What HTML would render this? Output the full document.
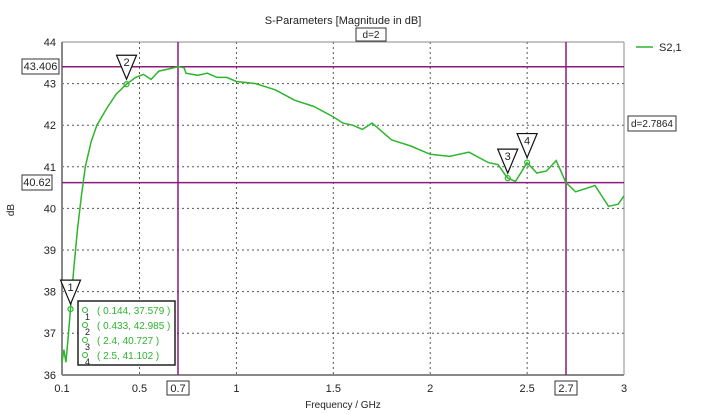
<!DOCTYPE html>
<html><head><meta charset="utf-8"><style>
body{margin:0;background:#fff;}
svg{display:block;font-family:"Liberation Sans","DejaVu Sans",sans-serif;}
</style></head><body>
<svg id="s" width="702" height="414" viewBox="0 0 702 414">
<rect width="702" height="414" fill="#fff"/>
<text x="343" y="24" font-size="11" text-anchor="middle" fill="#222">S-Parameters [Magnitude in dB]</text>
<rect x="356" y="28" width="30" height="13" fill="#fff" stroke="#333"/>
<text x="371" y="38" font-size="10" text-anchor="middle" fill="#222">d=2</text>
<g id="grid" stroke="#555" stroke-dasharray="2,3" stroke-width="1"></g>
<line x1="62" y1="42" x2="62" y2="375" stroke="#888" stroke-width="2"/>
<line x1="62" y1="375" x2="624" y2="375" stroke="#888" stroke-width="2"/>
<line x1="62" y1="42" x2="624" y2="42" stroke="#888" stroke-width="1"/>
<line x1="624" y1="42" x2="624" y2="375" stroke="#888" stroke-width="1"/>
<g id="lab" font-size="11" fill="#222"></g>
<line x1="178" y1="42" x2="178" y2="375" stroke="#8b1a7a" stroke-width="1.5"/>
<line x1="566" y1="42" x2="566" y2="375" stroke="#8b1a7a" stroke-width="1.5"/>
<line x1="62" y1="66.7" x2="624" y2="66.7" stroke="#8b1a7a" stroke-width="1.5"/>
<line x1="62" y1="182.6" x2="624" y2="182.6" stroke="#8b1a7a" stroke-width="1.5"/>
<rect x="22" y="59" width="37" height="15" fill="#fff" stroke="#333"/>
<text x="40.5" y="70" font-size="11" text-anchor="middle" fill="#222">43.406</text>
<rect x="22" y="175" width="30" height="15" fill="#fff" stroke="#333"/>
<text x="37" y="186" font-size="11" text-anchor="middle" fill="#222">40.62</text>
<rect x="628" y="116" width="48" height="15" fill="#fff" stroke="#333"/>
<text x="652" y="127" font-size="10" text-anchor="middle" fill="#222">d=2.7864</text>
<rect x="167" y="381" width="22" height="14" fill="#fff" stroke="#333"/>
<text x="178" y="392" font-size="11" text-anchor="middle" fill="#222">0.7</text>
<rect x="555" y="381" width="22" height="14" fill="#fff" stroke="#333"/>
<text x="566" y="392" font-size="11" text-anchor="middle" fill="#222">2.7</text>
<text x="343" y="408" font-size="10" text-anchor="middle" fill="#222">Frequency / GHz</text>
<text x="14" y="210" font-size="10" text-anchor="middle" fill="#222" transform="rotate(-90 14 210)">dB</text>
<path id="c" fill="none" stroke="#2db52d" stroke-width="1.5"/>
<line x1="636" y1="47" x2="653" y2="47" stroke="#2db52d" stroke-width="1.5"/>
<text x="659" y="51" font-size="11" fill="#222">S2,1</text>
<g id="mk"></g>
<rect x="78" y="301" width="97" height="64" fill="#fff" stroke="#222" stroke-width="1.5"/>
<g font-size="10" fill="#2db52d">
<text x="97" y="314">( 0.144, 37.579 )</text>
<text x="97" y="329">( 0.433, 42.985 )</text>
<text x="97" y="344">( 2.4, 40.727 )</text>
<text x="97" y="359">( 2.5, 41.102 )</text>
</g>
<g fill="none" stroke="#2db52d" stroke-width="1">
<circle cx="85" cy="310" r="2.5"/><circle cx="85" cy="325" r="2.5"/><circle cx="85" cy="340" r="2.5"/><circle cx="85" cy="355" r="2.5"/>
</g>
<g font-size="9" fill="#222"><text x="85" y="320">1</text><text x="85" y="335">2</text><text x="85" y="350">3</text><text x="85" y="365">4</text></g>
</svg>
<script>
var X=f=>62+(f-0.1)*193.8, Y=v=>42+(44-v)*41.6, ns="http://www.w3.org/2000/svg";
function el(p,t,a,tx){var e=document.createElementNS(ns,t);for(var k in a)e.setAttribute(k,a[k]);if(tx)e.textContent=tx;document.getElementById(p).appendChild(e);}
[0.5,1,1.5,2,2.5].forEach(f=>el("grid","line",{x1:X(f),y1:42,x2:X(f),y2:375}));
[37,38,39,40,41,42,43].forEach(v=>el("grid","line",{x1:62,y1:Y(v),x2:624,y2:Y(v)}));
[[0.1,"0.1"],[0.5,"0.5"],[1,"1"],[1.5,"1.5"],[2,"2"],[2.5,"2.5"],[3,"3"]].forEach(a=>el("lab","text",{x:X(a[0]),y:392,"text-anchor":"middle"},a[1]));
[36,37,38,39,40,41,42,43,44].forEach(v=>el("lab","text",{x:56,y:Y(v)+4,"text-anchor":"end"},v));
var d=[[0.1,36.3],[0.11,36.6],[0.12,36.3],[0.13,36.8],[0.144,37.58],[0.16,38.5],[0.18,39.5],[0.2,40.3],[0.22,41],[0.25,41.6],[0.28,42],[0.33,42.4],[0.38,42.75],[0.433,42.985],[0.48,43.15],[0.52,43.22],[0.56,43.1],[0.6,43.3],[0.65,43.35],[0.7,43.406],[0.73,43.38],[0.74,43.25],[0.8,43.2],[0.85,43.25],[0.9,43.15],[0.95,43.15],[1.0,43.05],[1.1,43.0],[1.2,42.85],[1.3,42.6],[1.4,42.45],[1.5,42.2],[1.55,42.05],[1.6,42.0],[1.65,41.9],[1.7,42.05],[1.75,41.85],[1.8,41.65],[1.9,41.5],[2.0,41.3],[2.1,41.25],[2.2,41.35],[2.3,41.1],[2.35,41.05],[2.38,40.85],[2.4,40.73],[2.44,40.65],[2.5,41.1],[2.55,40.85],[2.6,40.9],[2.65,41.15],[2.7,40.62],[2.75,40.4],[2.85,40.55],[2.92,40.05],[2.97,40.1],[3.0,40.3]];
document.getElementById("c").setAttribute("d","M"+d.map(p=>X(p[0]).toFixed(1)+","+Y(p[1]).toFixed(1)).join(" L"));
[[0.144,37.579,"1"],[0.433,42.985,"2"],[2.4,40.727,"3"],[2.5,41.102,"4"]].forEach(m=>{var x=X(m[0]),y=Y(m[1]);
el("mk","circle",{cx:x,cy:y,r:2.5,fill:"none",stroke:"#2db52d","stroke-width":1.2});
el("mk","path",{d:"M"+(x-10)+","+(y-29)+" L"+(x+10)+","+(y-29)+" L"+x+","+(y-5)+"Z",fill:"#fff",stroke:"#111","stroke-width":1.2});
el("mk","text",{x:x,y:y-18,"font-size":11,"text-anchor":"middle",fill:"#222"},m[2]);});
</script>
</body></html>
